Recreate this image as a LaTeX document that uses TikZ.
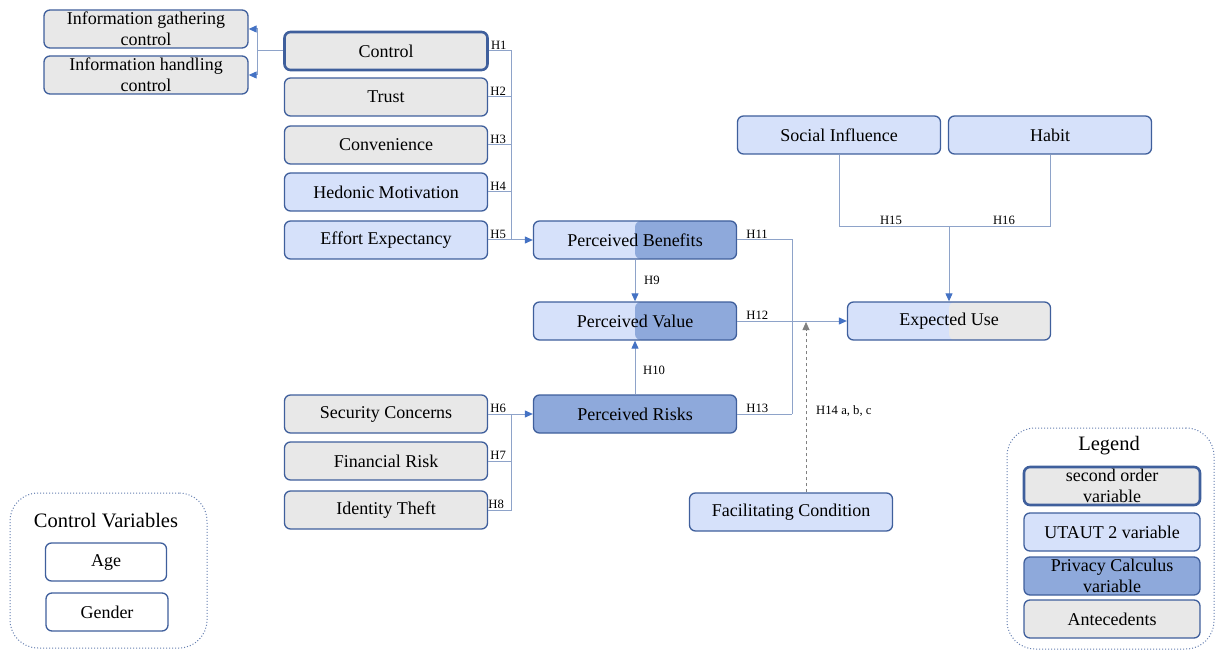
\documentclass[tikz,border=0pt]{standalone}
\usepackage{fontspec}
\setmainfont{Liberation Serif}
\usetikzlibrary{arrows.meta}
\definecolor{bord}{HTML}{3F5F9C}
\definecolor{lgray}{HTML}{E8E8E8}
\definecolor{lblue}{HTML}{D6E1FA}
\definecolor{dblue}{HTML}{8EA9DB}
\definecolor{conn}{HTML}{8EA3C9}
\definecolor{arr}{HTML}{4472C4}
\tikzset{
 box/.style={draw=bord, line width=1.3pt, rounded corners=6pt, minimum width=203pt, minimum height=38pt, inner sep=0pt, font=\fontsize{18}{21}\selectfont, align=center},
 gbox/.style={box, fill=lgray},
 bbox/.style={box, fill=lblue},
 dbox/.style={box, fill=dblue},
 sbox/.style={box, fill=lgray, line width=2.6pt},
 halfdark/.style={box, fill=lblue, path picture={\fill[dblue] (path picture bounding box.north) rectangle (path picture bounding box.south east);}},
 halfgray/.style={box, fill=lblue, path picture={\fill[lgray] (path picture bounding box.north) rectangle (path picture bounding box.south east);}},
 ln/.style={draw=conn, line width=1pt},
 arrow/.style={ln, -{Triangle[length=8pt,width=7pt,color=arr]}},
 hyp/.style={font=\fontsize{12.7}{14}\selectfont, inner sep=1pt},
 group/.style={draw=bord!80, dotted, line width=1pt, rounded corners=28pt},
 gtitle/.style={font=\fontsize{20.5}{23}\selectfont},
}
\begin{document}
\begin{tikzpicture}[x=1pt,y=-1pt]
\useasboundingbox (0,0) rectangle (1215,652);
% left antecedents
\node[gbox, minimum width=204pt] (ig) at (146,29) {Information gathering\\control};
\node[gbox, minimum width=204pt] (ih) at (146,75) {Information handling\\control};
\node[sbox] (ctrl) at (386,51) {Control};
\node[gbox] (trust) at (386,97) {Trust};
\node[gbox] (conv) at (386,145) {Convenience};
\node[bbox] (hed) at (386,192) {Hedonic Motivation};
\node[bbox] (eff) at (386,240) {Effort Expectancy};
\node[gbox] (sec) at (386,414) {Security Concerns};
\node[gbox] (fin) at (386,461) {Financial Risk};
\node[gbox] (idt) at (386,510) {Identity Theft};
% central
\node[halfdark] (pb) at (635,240) {Perceived Benefits};
\node[halfdark] (pv) at (635,321) {Perceived Value};
\node[dbox] (pr) at (635,414) {Perceived Risks};
\node[halfgray] (eu) at (949,321) {Expected Use};
\node[bbox] (si) at (839,135) {Social Influence};
\node[bbox] (hab) at (1050,135) {Habit};
\node[bbox] (fc) at (791,512) {Facilitating Condition};
% control -> sub dimensions
\coordinate (cj) at (257,51);
\draw[ln] (ctrl.west) -- (cj);
\draw[arrow] (cj) |- (ig.east);
\draw[arrow] (cj) |- (ih.east);
% H1-H5 bus
\coordinate (bj) at (511,240);
\draw[ln] (ctrl.east) -| (bj);
\draw[ln] (trust.east) -- (trust.east -| bj);
\draw[ln] (conv.east) -- (conv.east -| bj);
\draw[ln] (hed.east) -- (hed.east -| bj);
\draw[arrow] (eff.east) -- (pb.west);
\node[hyp, anchor=south west] (h1) at ([xshift=1pt]ctrl.east) {H1};
\node[hyp, anchor=south west] (h2) at ([xshift=1pt]trust.east) {H2};
\node[hyp, anchor=south west] (h3) at ([xshift=1pt]conv.east) {H3};
\node[hyp, anchor=south west] (h4) at ([xshift=1pt]hed.east) {H4};
\node[hyp, anchor=south west] (h5) at ([xshift=1pt]eff.east) {H5};
% H6-H8 bus
\coordinate (bk) at (511,414);
\draw[ln] (idt.east) -| (bk);
\draw[ln] (fin.east) -- (fin.east -| bk);
\draw[arrow] (sec.east) -- (pr.west);
\node[hyp, anchor=south west] (h6) at ([xshift=1pt]sec.east) {H6};
\node[hyp, anchor=south west] (h7) at ([xshift=1pt]fin.east) {H7};
\node[hyp, anchor=south west] (h8) at ([xshift=-1pt]idt.east) {H8};
% H9, H10
\draw[arrow] (pb.south) -- (pv.north);
\draw[arrow] (pr.north) -- (pv.south);
\node[hyp, anchor=west] (h9) at (643,280) {H9};
\node[hyp, anchor=west] (h10) at (642,370) {H10};
% H11, H12, H13
\coordinate (rj) at (792,414);
\draw[ln] (pb.east) -| (rj);
\draw[ln] (pr.east) -- (rj);
\draw[arrow] (pv.east) -- (eu.west);
\node[hyp, anchor=south west] (h11) at ([xshift=8pt]pb.east) {H11};
\node[hyp, anchor=south west] (h12) at ([xshift=8pt]pv.east) {H12};
\node[hyp, anchor=south west] (h13) at ([xshift=8pt]pr.east) {H13};
% H14
\coordinate (h14t) at (806,322);
\draw[gray, dashed, line width=0.8pt, -{Triangle[length=8pt,width=7pt,color=gray]}] ([xshift=15pt]fc.north) -- (h14t);
\node[hyp, anchor=west] (h14) at (815,411) {H14 a, b, c};
% H15, H16
\coordinate (sj) at (949,227);
\draw[ln] (si.south) |- (sj);
\draw[ln] (hab.south) |- (sj);
\draw[arrow] (sj) -- (eu.north);
\node[hyp, anchor=south] (h15) at (891,226) {H15};
\node[hyp, anchor=south] (h16) at (1004,226) {H16};
% control variables
\node[group, minimum width=197pt, minimum height=155pt] (cvbox) at (108.5,570.5) {};
\node[gtitle] (cvt) at (106,521) {Control Variables};
\node[box, fill=white, minimum width=121pt] (age) at (106,562) {Age};
\node[box, fill=white, minimum width=122pt] (gen) at (107,612) {Gender};
% legend
\node[group, minimum width=207pt, minimum height=221pt] (legbox) at (1110.5,538.5) {};
\node[gtitle] (legt) at (1109,446) {Legend};
\node[sbox, minimum width=176pt] (l1) at (1112,486) {second order\\variable};
\node[bbox, minimum width=176pt] (l2) at (1112,532) {UTAUT 2 variable};
\node[dbox, minimum width=176pt] (l3) at (1112,576) {Privacy Calculus\\variable};
\node[gbox, minimum width=176pt] (l4) at (1112,619) {Antecedents};
\end{tikzpicture}
\end{document}
